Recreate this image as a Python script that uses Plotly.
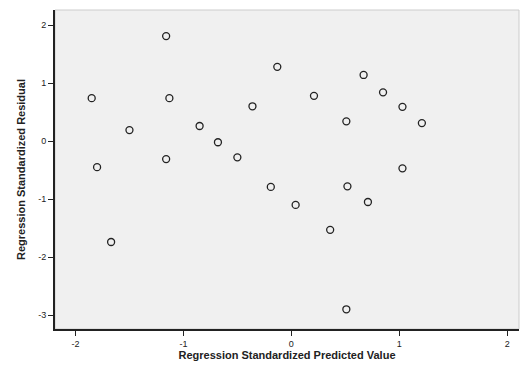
import plotly.graph_objects as go

predicted = [-1.85, -1.80, -1.67, -1.50, -1.16, -1.16, -1.13, -0.85, -0.68, -0.50,
             -0.36, -0.19, -0.13, 0.04, 0.21, 0.36, 0.51, 0.52, 0.51, 0.67,
             0.71, 0.85, 1.03, 1.03, 1.21]
residual = [0.74, -0.45, -1.74, 0.19, 1.81, -0.31, 0.74, 0.26, -0.02, -0.28,
            0.60, -0.79, 1.28, -1.10, 0.78, -1.53, 0.34, -0.78, -2.90, 1.14,
            -1.05, 0.84, 0.59, -0.47, 0.31]
x_ticks = [-2, -1, 0, 1, 2]
y_ticks = [2, 1, 0, -1, -2, -3]

fig = go.Figure()
fig.add_trace(go.Scatter(
    x=predicted, y=residual, mode="markers",
    marker=dict(symbol="circle-open", size=7, color="#222222", line=dict(width=1.3)),
    showlegend=False, hoverinfo="x+y"))

fig.update_layout(
    width=521, height=372,
    margin=dict(l=55, r=2, t=10, b=43, autoexpand=False),
    paper_bgcolor="white", plot_bgcolor="#f0f0f0",
    font=dict(family="Liberation Sans, Arial, sans-serif", size=10, color="#222222"),
)
fig.update_xaxes(
    range=[-2.19, 2.11], tickvals=x_ticks, ticktext=[str(v) for v in x_ticks],
    showgrid=False, zeroline=False, showline=True, linecolor="#222222", linewidth=2,
    ticks="outside", ticklen=5, tickcolor="#222222", tickfont=dict(size=9),
    automargin=False,
    title=dict(text="<b>Regression Standardized Predicted Value</b>", font=dict(size=11), standoff=4))
fig.update_yaxes(
    range=[-3.24, 2.26], tickvals=y_ticks, ticktext=[str(v) for v in y_ticks],
    showgrid=False, zeroline=False, showline=True, linecolor="#222222", linewidth=2,
    ticks="outside", ticklen=5, tickcolor="#222222", tickfont=dict(size=9),
    automargin=False,
    title=dict(text="<b>Regression Standardized Residual</b>", font=dict(size=11), standoff=10))
fig.add_shape(type="rect", xref="paper", yref="paper", x0=0, y0=0, x1=1, y1=1,
              line=dict(color="#cccccc", width=1), layer="below")

fig.write_html("out.html", config={"displayModeBar": False},
               post_script="document.body.style.margin='0';document.body.style.overflow='hidden';")
